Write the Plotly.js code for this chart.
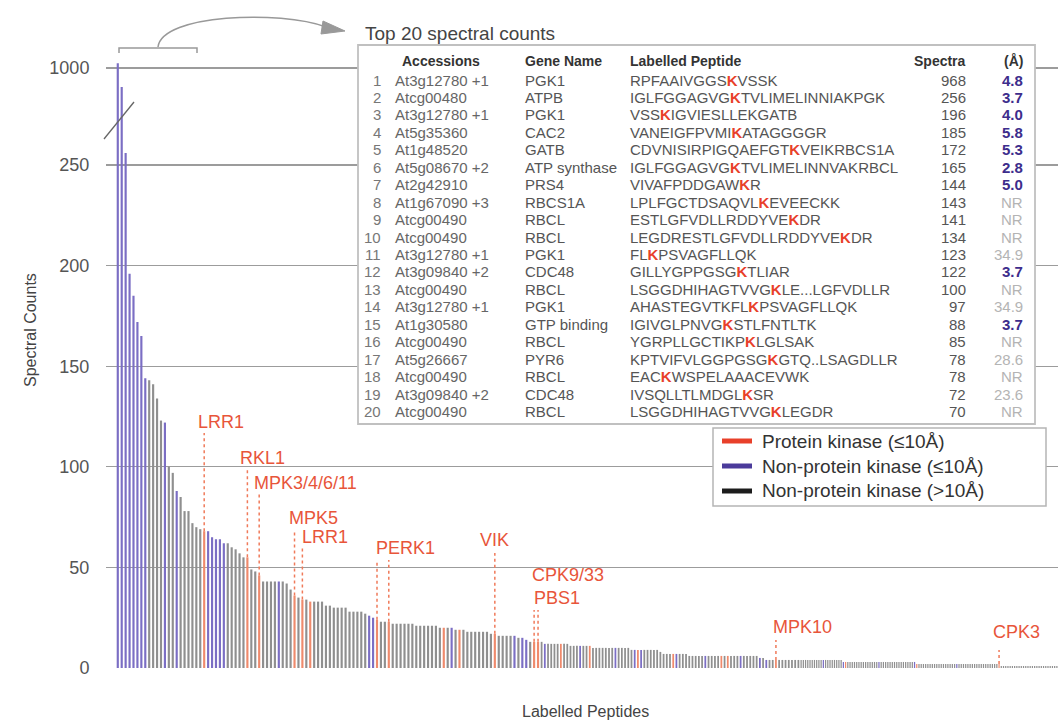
<!DOCTYPE html>
<html><head><meta charset="utf-8">
<script src="https://cdn.plot.ly/plotly-3.0.1.min.js"></script>
<style>html,body{margin:0;padding:0;background:#fff}</style>
</head><body>
<div id="chart" style="width:1060px;height:722px"></div>
<script>
// ---------------- DATA ----------------
// spectral counts of labelled peptides, in rank order
const spectralCounts = [
  1008, 968, 256, 196, 185, 172, 165, 144, 143, 141, 134, 123, 122, 100, 97, 88, 85, 78, 78, 72, 70,
  69, 68, 68, 65, 64, 64, 62, 62, 60,
  59, 57, 55, 55, 49, 48, 46, 43, 43, 43,
  43, 43, 43, 42, 39, 36, 35, 34, 34, 33,
  33, 33, 33, 31, 31, 30, 30, 30, 30, 28,
  28, 28, 28, 27, 26, 25, 24, 23, 23, 23,
  22, 22, 22, 22, 22, 22, 21, 21, 21, 21,
  21, 21, 20, 20, 20, 20, 19, 19, 19, 18,
  18, 18, 18, 18, 18, 17, 17, 16, 16, 16,
  16, 16, 15, 15, 14, 13, 13, 13,
  13, 12, 12, 12, 12, 12, 12, 12, 12, 11, 11, 11,
  11, 11, 11, 11, 10, 10, 10, 10, 10, 10, 10, 10, 10, 10, 10, 10,
  9, 9, 9, 9, 9, 9, 9, 9, 9, 8,
  7, 7, 7, 7, 7, 7, 7, 7,
  6, 6, 6, 6, 6, 6, 6, 6, 6, 6, 6, 6, 6, 6, 6, 6, 6, 6, 6, 6, 6, 6,
  5, 5,
  4, 4, 4, 4, 4, 4, 4, 4, 4, 4, 4,
  4, 4, 4, 4, 4, 4, 4, 4, 4, 4, 4, 4, 4, 4, 4, 4, 4, 4, 4,
  3, 3, 3, 3, 3, 3, 3, 3, 3, 3, 3, 3, 3, 3, 3, 3, 3, 3, 3, 3, 3, 3, 3, 3, 3, 3, 3, 3, 3, 3, 3, 3, 3,
  2, 2, 2, 2, 2, 2, 2, 2, 2, 2, 2, 2, 2, 2, 2, 2, 2, 2, 2, 2, 2, 2, 2, 2, 2, 2, 2, 2, 2, 2, 2, 2, 2, 2, 2, 2, 2, 2,
  1, 1, 1, 1, 1, 1, 1, 1, 1, 1, 1, 1, 1, 1, 1, 1, 1, 1, 1, 1, 1, 1, 1, 1, 1, 1
];
// ranks (1-based) of bars in each class; all others are non-protein kinase (>10Å)
const purpleBars = [1,2,3,4,5,6,7,8,13,16,24,25,26,27,28,42,65,66,86,102,104,105,110,121,132,138,140,151,160,171,177,179,200,209,225,241,260];
const kinaseBars = [23,34,37,46,48,50,67,70,84,88,97,107,108,115,124,139,150,165,167,182,210,242,279];

// kinase labels
const labelTexts = ['LRR1','RKL1','MPK3/4/6/11','MPK5','LRR1','PERK1','VIK','CPK9/33','PBS1','MPK10','CPK3'];
const labelBars  = [[23],[34],[37],[46],[48],[67,70],[97],[107],[108],[182],[279]];

// top-20 table
const tableRanks = [1,2,3,4,5,6,7,8,9,10,11,12,13,14,15,16,17,18,19,20];
const tableAccessions = ['At3g12780 +1','Atcg00480','At3g12780 +1','At5g35360','At1g48520','At5g08670 +2','At2g42910','At1g67090 +3','Atcg00490','Atcg00490','At3g12780 +1','At3g09840 +2','Atcg00490','At3g12780 +1','At1g30580','Atcg00490','At5g26667','Atcg00490','At3g09840 +2','Atcg00490'];
const tableGenes = ['PGK1','ATPB','PGK1','CAC2','GATB','ATP synthase','PRS4','RBCS1A','RBCL','RBCL','PGK1','CDC48','RBCL','PGK1','GTP binding','RBCL','PYR6','RBCL','CDC48','RBCL'];
const tablePeptides = ['RPFAAIVGGS[K]VSSK','IGLFGGAGVG[K]TVLIMELINNIAKPGK','VSS[K]IGVIESLLEKGATB','VANEIGFPVMI[K]ATAGGGGR','CDVNISIRPIGQAEFGT[K]VEIKRBCS1A','IGLFGGAGVG[K]TVLIMELINNVAKRBCL','VIVAFPDDGAW[K]R','LPLFGCTDSAQVL[K]EVEECKK','ESTLGFVDLLRDDYVE[K]DR','LEGDRESTLGFVDLLRDDYVE[K]DR','FL[K]PSVAGFLLQK','GILLYGPPGSG[K]TLIAR','LSGGDHIHAGTVVG[K]LE...LGFVDLLR','AHASTEGVTKFL[K]PSVAGFLLQK','IGIVGLPNVG[K]STLFNTLTK','YGRPLLGCTIKP[K]LGLSAK','KPTVIFVLGGPGSG[K]GTQ..LSAGDLLR','EAC[K]WSPELAAACEVWK','IVSQLLTLMDGL[K]SR','LSGGDHIHAGTVVG[K]LEGDR'];
const tableSpectra = [968,256,196,185,172,165,144,143,141,134,123,122,100,97,88,85,78,78,72,70];
const tableDistance = ['4.8','3.7','4.0','5.8','5.3','2.8','5.0','NR','NR','NR','34.9','3.7','NR','34.9','3.7','NR','28.6','NR','23.6','NR'];
const tableHeaders = ['Accessions','Gene Name','Labelled Peptide','Spectra','(Å)'];

const legendItems = ['Protein kinase (≤10Å)','Non-protein kinase (≤10Å)','Non-protein kinase (>10Å)'];
const yTicks = [0,50,100,150,200,250];
const yTicksTop = [1000];

// ---------------- LAYOUT HELPERS ----------------
const FONT = 'Liberation Sans, Arial, Helvetica, sans-serif';
const PL = 106, PR = 1058, PT = 55, PB = 668;
const X = p => (p - PL) / (PR - PL);
const Y = p => (PB - p) / (PB - PT);
const yBreak = Y(120);

const COL_K = '#ef8a6c', COL_P = '#7b6ec4', COL_G = '#8f8f8f';
const segments = [
  {axis:'x',  first:1,   last:108, range:[-2.0,108.5], dom:[0, X(540)]},
  {axis:'x2', first:109, last:189, range:[108.5,189.5], dom:[X(540), X(800)]},
  {axis:'x3', first:190, last:305, range:[189.5,305.5], dom:[X(800), 1]}
];
function colorOf(rank){
  if (kinaseBars.includes(rank)) return COL_K;
  if (purpleBars.includes(rank)) return COL_P;
  return COL_G;
}
function axisOf(rank){
  for (const s of segments) if (rank >= s.first && rank <= s.last) return s.axis;
  return 'x3';
}

const traces = [];
segments.forEach(s => {
  const xs = [], ys = [], cs = [];
  for (let r = s.first; r <= s.last; r++) { xs.push(r); ys.push(spectralCounts[r-1]); cs.push(colorOf(r)); }
  ['y','y2'].forEach(ya => traces.push({
    type:'bar', x:xs, y:ys, xaxis:s.axis, yaxis:ya,
    marker:{color:cs, line:{width:0}}, hoverinfo:'skip', showlegend:false
  }));
});

const annotations = [];
const shapes = [];

// axis titles
annotations.push({xref:'paper', yref:'paper', x:X(30), y:Y(330), text:'Spectral Counts', textangle:-90, showarrow:false,
  font:{family:FONT, size:16, color:'#444'}, xanchor:'center', yanchor:'middle'});
annotations.push({xref:'paper', yref:'paper', x:X(585), y:Y(711), text:'Labelled Peptides', showarrow:false,
  font:{family:FONT, size:16, color:'#444'}, xanchor:'center', yanchor:'middle'});

// kinase labels
const labelStyle = [
  {top:116.8, dx:-8, dy:11, anchor:'left'},
  {top:99.4,  dx:-9, dy:10, anchor:'left'},
  {top:87.0,  dx:-7, dy:10, anchor:'left'},
  {top:68.6,  dx:-8, dy:12, anchor:'left'},
  {top:60.1,  dx:-2, dy:10, anchor:'left'},
  {top:53.7,  dx:-3, dy:12, anchor:'left'},
  {top:57.2,  dx:0,  dy:13, anchor:'center'},
  {top:28.8,  dx:-4, dy:35, anchor:'left'},
  {top:28.8,  dx:-6, dy:12, anchor:'left'},
  {top:13.9,  dx:-5, dy:13, anchor:'left'},
  {top:8.9,   dx:-8, dy:18, anchor:'left'}
];
labelTexts.forEach((t, i) => {
  const st = labelStyle[i];
  const bars = labelBars[i];
  bars.forEach(b => {
    shapes.push({type:'line', xref:axisOf(b), yref:'y', x0:b, x1:b, y0:spectralCounts[b-1], y1:st.top,
      line:{color:'#f07a5a', width:1.5, dash:'dot'}, layer:'above'});
  });
  annotations.push({xref:axisOf(bars[0]), yref:'y', x:bars[0], y:st.top, xshift:st.dx, yshift:st.dy,
    text:t, showarrow:false, xanchor:st.anchor, yanchor:'middle',
    font:{family:FONT, size:18, color:'#e8553a'}});
});

// broken axis mark, bracket and arrow
const P = (x, y) => X(x).toFixed(5) + ',' + Y(y).toFixed(5);
shapes.push({type:'line', xref:'paper', yref:'paper', x0:X(104), y0:Y(139), x1:X(134), y1:Y(102), line:{color:'#666', width:1.3}, layer:'above'});
shapes.push({type:'path', xref:'paper', yref:'paper', path:'M'+P(119,53)+' L'+P(119,48)+' L'+P(197,48)+' L'+P(197,53),
  line:{color:'#999', width:1.5}, layer:'above'});
shapes.push({type:'path', xref:'paper', yref:'paper', path:'M'+P(158,47)+' C'+P(162,14)+' '+P(280,10)+' '+P(326,27),
  line:{color:'#999', width:1.5}, layer:'above'});
shapes.push({type:'path', xref:'paper', yref:'paper', path:'M'+P(323,21)+' L'+P(345,31)+' L'+P(321,34)+' Z',
  line:{color:'#999', width:1}, fillcolor:'#999', layer:'above'});

// table
shapes.push({type:'rect', xref:'paper', yref:'paper', x0:X(358), x1:X(1035), y0:Y(45), y1:Y(424),
  line:{color:'#c0c0c0', width:1.8}, fillcolor:'#ffffff', layer:'above'});
annotations.push({xref:'paper', yref:'paper', x:X(363), y:Y(34), text:'Top 20 spectral counts', showarrow:false,
  xanchor:'left', yanchor:'middle', font:{family:FONT, size:19, color:'#444'}});
const hdrX = [400, 523, 628, 968, 1025];
const hdrAnchor = ['left','left','left','right','right'];
tableHeaders.forEach((h, i) => annotations.push({xref:'paper', yref:'paper', x:X(hdrX[i]), y:Y(61), text:'<b>'+h+'</b>',
  showarrow:false, xanchor:hdrAnchor[i], yanchor:'middle', font:{family:FONT, size:14, color:'#333'}}));
const tf = (c) => ({family:FONT, size:15, color:c});
tableRanks.forEach((r, k) => {
  const y = Y(80 + k * 17.45);
  annotations.push({xref:'paper', yref:'paper', x:X(383), y, text:String(r), showarrow:false, xanchor:'right', yanchor:'middle', font:tf('#777')});
  annotations.push({xref:'paper', yref:'paper', x:X(393), y, text:tableAccessions[k], showarrow:false, xanchor:'left', yanchor:'middle', font:tf('#666')});
  annotations.push({xref:'paper', yref:'paper', x:X(523), y, text:tableGenes[k], showarrow:false, xanchor:'left', yanchor:'middle', font:tf('#555')});
  const pep = tablePeptides[k].replace(/\[K\]/, '<span style="color:#e8402a"><b>K</b></span>');
  annotations.push({xref:'paper', yref:'paper', x:X(628), y, text:pep, showarrow:false, xanchor:'left', yanchor:'middle', font:tf('#555')});
  annotations.push({xref:'paper', yref:'paper', x:X(968), y, text:String(tableSpectra[k]), showarrow:false, xanchor:'right', yanchor:'middle', font:tf('#555')});
  const d = tableDistance[k];
  const close = d !== 'NR' && parseFloat(d) <= 10;
  annotations.push({xref:'paper', yref:'paper', x:X(1025), y, text: close ? '<b>'+d+'</b>' : d, showarrow:false,
    xanchor:'right', yanchor:'middle', font:tf(close ? '#3d2d8c' : '#b4b4b4')});
});

// legend
const legendColors = ['#e8402a', '#4b3b9b', '#1c1c1c'];
shapes.push({type:'rect', xref:'paper', yref:'paper', x0:X(713), x1:X(1046), y0:Y(428), y1:Y(506),
  line:{color:'#b5b5b5', width:1.5}, fillcolor:'#ffffff', layer:'above'});
legendItems.forEach((t, i) => {
  const yy = 441 + i * 25;
  shapes.push({type:'line', xref:'paper', yref:'paper', x0:X(722), x1:X(752), y0:Y(yy), y1:Y(yy),
    line:{color:legendColors[i], width:5}, layer:'above'});
  annotations.push({xref:'paper', yref:'paper', x:X(760), y:Y(yy), text:t, showarrow:false, xanchor:'left', yanchor:'middle',
    font:{family:FONT, size:19, color:'#333'}});
});

const yCommon = {
  showgrid:true, gridcolor:'#9c9c9c', gridwidth:1.3, zeroline:false, showline:false,
  ticks:'outside', ticklen:12, tickcolor:'rgba(0,0,0,0)',
  tickfont:{family:FONT, size:18, color:'#555'}, anchor:'x', fixedrange:true
};
const layout = {
  width:1060, height:722,
  margin:{l:PL, r:1060-PR, t:PT, b:722-PB},
  paper_bgcolor:'#ffffff', plot_bgcolor:'rgba(0,0,0,0)',
  bargap:0.45, showlegend:false,
  xaxis: {domain:segments[0].dom, range:segments[0].range, visible:false, fixedrange:true},
  xaxis2:{domain:segments[1].dom, range:segments[1].range, visible:false, fixedrange:true},
  xaxis3:{domain:segments[2].dom, range:segments[2].range, visible:false, fixedrange:true},
  yaxis: Object.assign({}, yCommon, {domain:[0, yBreak], range:[0, 272.4], tickvals:yTicks}),
  yaxis2:Object.assign({}, yCommon, {domain:[yBreak, 1], range:[912.5, 1022], tickvals:yTicksTop}),
  shapes, annotations
};
Plotly.newPlot('chart', traces, layout, {displayModeBar:false, staticPlot:true});
</script>
</body></html>
